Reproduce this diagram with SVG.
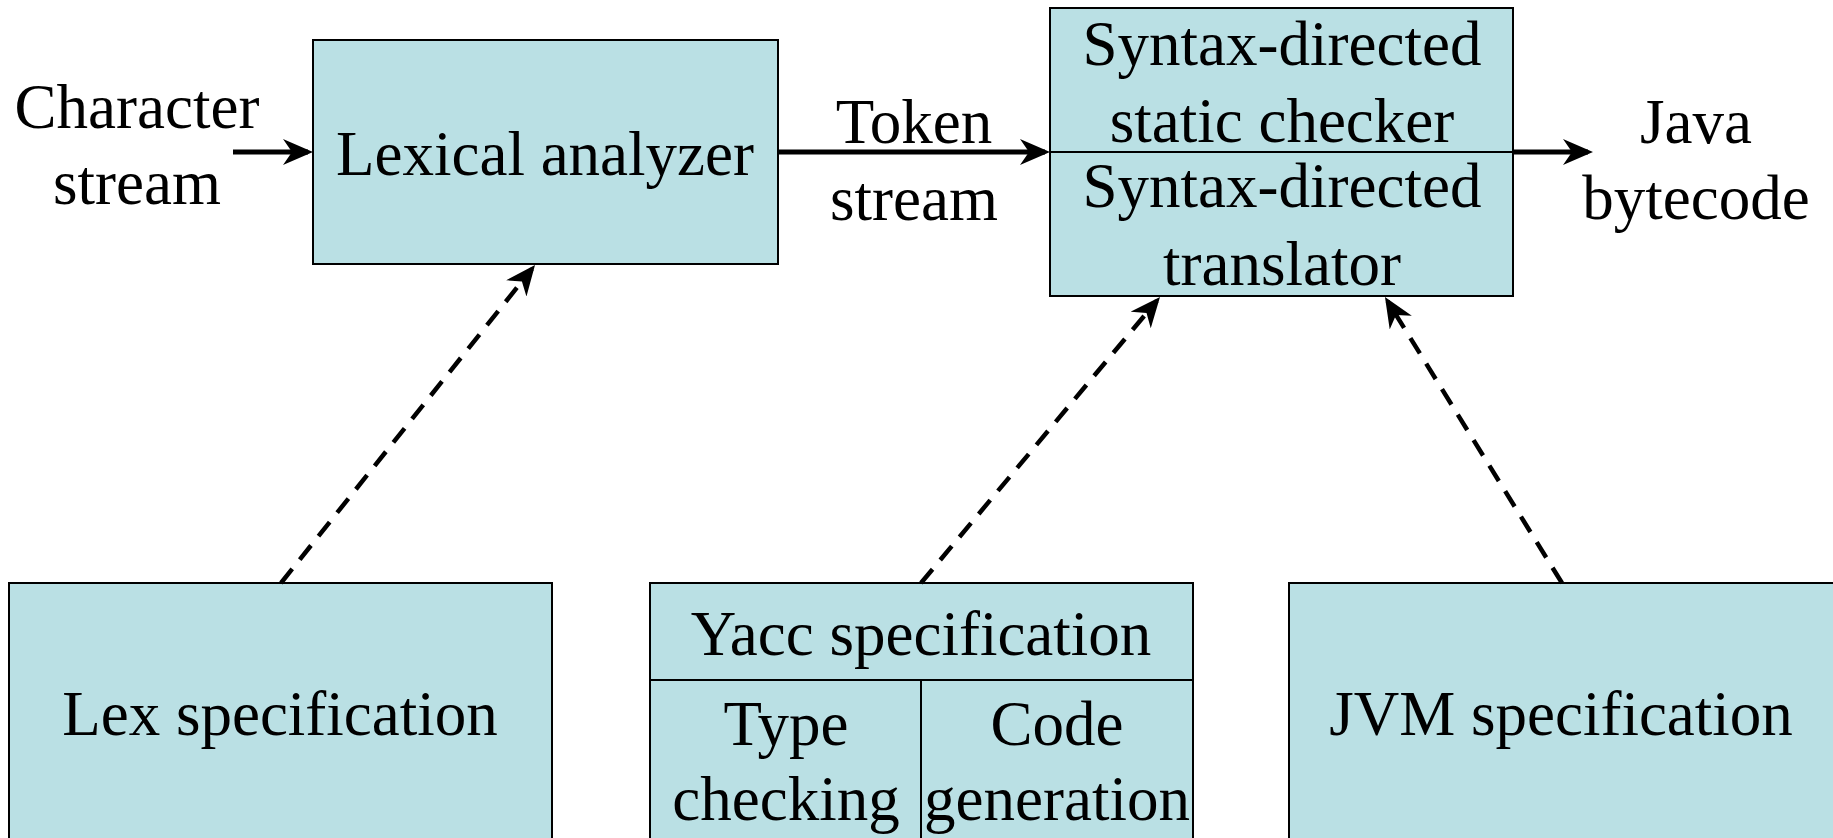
<svg xmlns="http://www.w3.org/2000/svg" width="1833" height="838" viewBox="0 0 1833 838">
<style>
.box{fill:#bae0e4;stroke:#000;stroke-width:2}
.div{stroke:#000;stroke-width:2;fill:none}
.t{font-family:"Liberation Serif","Times New Roman",serif;font-size:63px;fill:#000;text-anchor:middle}
.solid{stroke:#000;stroke-width:5;fill:none}
.dash{stroke:#000;stroke-width:4.5;fill:none;stroke-dasharray:18 12}
</style>
<defs>
<marker id="ah" viewBox="0 0 30 26" refX="25" refY="13" markerWidth="30" markerHeight="26" orient="auto" markerUnits="userSpaceOnUse">
<path d="M0,0 L30,13 L0,26 L9,13 Z" fill="#000"/>
</marker>
</defs>
<rect width="1833" height="838" fill="#fff"/>
<g id="char-stream">
<text class="t" x="137" y="128">Character</text>
<text class="t" x="137" y="204">stream</text>
</g>
<g id="lexical">
<rect class="box" x="313" y="40" width="465" height="224"/>
<text class="t" x="545" y="175">Lexical analyzer</text>
</g>
<g id="token-stream">
<text class="t" x="914" y="143">Token</text>
<text class="t" x="914" y="220">stream</text>
</g>
<g id="syntax">
<rect class="box" x="1050" y="8" width="463" height="288"/>
<line class="div" x1="1050" y1="152" x2="1513" y2="152"/>
<text class="t" x="1282" y="65">Syntax-directed</text>
<text class="t" x="1282" y="142">static checker</text>
<text class="t" x="1282" y="207">Syntax-directed</text>
<text class="t" x="1282" y="285">translator</text>
</g>
<g id="java">
<text class="t" x="1696" y="143">Java</text>
<text class="t" x="1696" y="219">bytecode</text>
</g>
<g id="lex-spec">
<rect class="box" x="9" y="583" width="543" height="280"/>
<text class="t" x="280" y="735">Lex specification</text>
</g>
<g id="yacc-spec">
<rect class="box" x="650" y="583" width="543" height="280"/>
<line class="div" x1="650" y1="680" x2="1193" y2="680"/>
<line class="div" x1="921" y1="680" x2="921" y2="863"/>
<text class="t" x="921" y="655">Yacc specification</text>
<text class="t" x="786" y="745">Type</text>
<text class="t" x="786" y="820">checking</text>
<text class="t" x="1057" y="745">Code</text>
<text class="t" x="1057" y="820">generation</text>
</g>
<g id="jvm-spec">
<rect class="box" x="1289" y="583" width="560" height="280"/>
<text class="t" x="1561" y="735">JVM specification</text>
</g>
<g id="connectors">
<line class="solid" x1="233" y1="152" x2="308" y2="152" marker-end="url(#ah)"/>
<line class="solid" x1="778" y1="152" x2="1045" y2="152" marker-end="url(#ah)"/>
<line class="solid" x1="1513" y1="152" x2="1588" y2="152" marker-end="url(#ah)"/>
<line class="dash" x1="281" y1="583" x2="531.9" y2="268.9" marker-end="url(#ah)"/>
<line class="dash" x1="921" y1="583" x2="1156.8" y2="300.8" marker-end="url(#ah)"/>
<line class="dash" x1="1562" y1="583" x2="1387.6" y2="301.3" marker-end="url(#ah)"/>
</g>
</svg>
